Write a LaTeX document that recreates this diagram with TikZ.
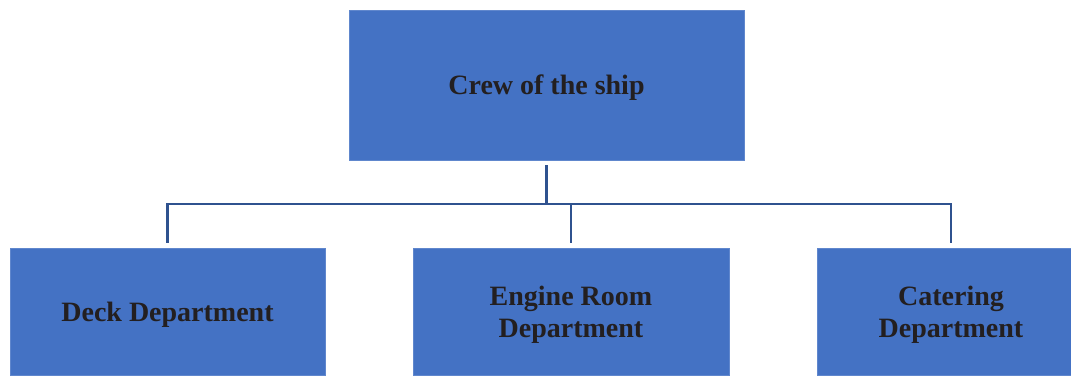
\documentclass[tikz,border=0pt]{standalone}
\usepackage{fontspec}
\setmainfont{Liberation Serif}
\definecolor{boxblue}{HTML}{4472C4}
\definecolor{linkblue}{HTML}{2F528F}
\definecolor{inkdark}{HTML}{231F20}
\begin{document}
\begin{tikzpicture}[x=1pt,y=-1pt,
	dept/.style={fill=boxblue,draw=boxblue!85!white,line width=0.6pt,text=inkdark,
		font=\bfseries\fontsize{28}{32}\selectfont,align=center,inner sep=0pt,text depth=0pt},
	link/.style={draw=linkblue,line width=2.5pt,line cap=butt}]

		% page frame
		\clip (0,0) rectangle (1071,375);
		\fill[white] (0,0) rectangle (1071,375);

		% boxes
		\node[dept,minimum width=395pt,minimum height=150pt] (crew) at (546.5,85) {Crew of the ship};
		\node[dept,minimum width=315pt,minimum height=127pt] (deck) at (167.5,311.5) {Deck Department};
		\node[dept,minimum width=316pt,minimum height=127pt] (engine) at (571,311.5) {Engine Room\\Department};
		\node[dept,minimum width=268pt,minimum height=127pt] (catering) at (951,311.5) {Catering\\Department};

		% bus line
		\coordinate (bus) at (0,204);

		% connectors
		\draw[link] ([yshift=-5pt]crew.south) -- (crew.south |- bus);
		\draw[link] ([yshift=5pt]deck.north) -- (deck.north |- bus) -- (catering.north |- bus) -- ([yshift=5pt]catering.north);
		\draw[link] (engine.north |- bus) -- ([yshift=5pt]engine.north);

	\end{tikzpicture}
\end{document}
